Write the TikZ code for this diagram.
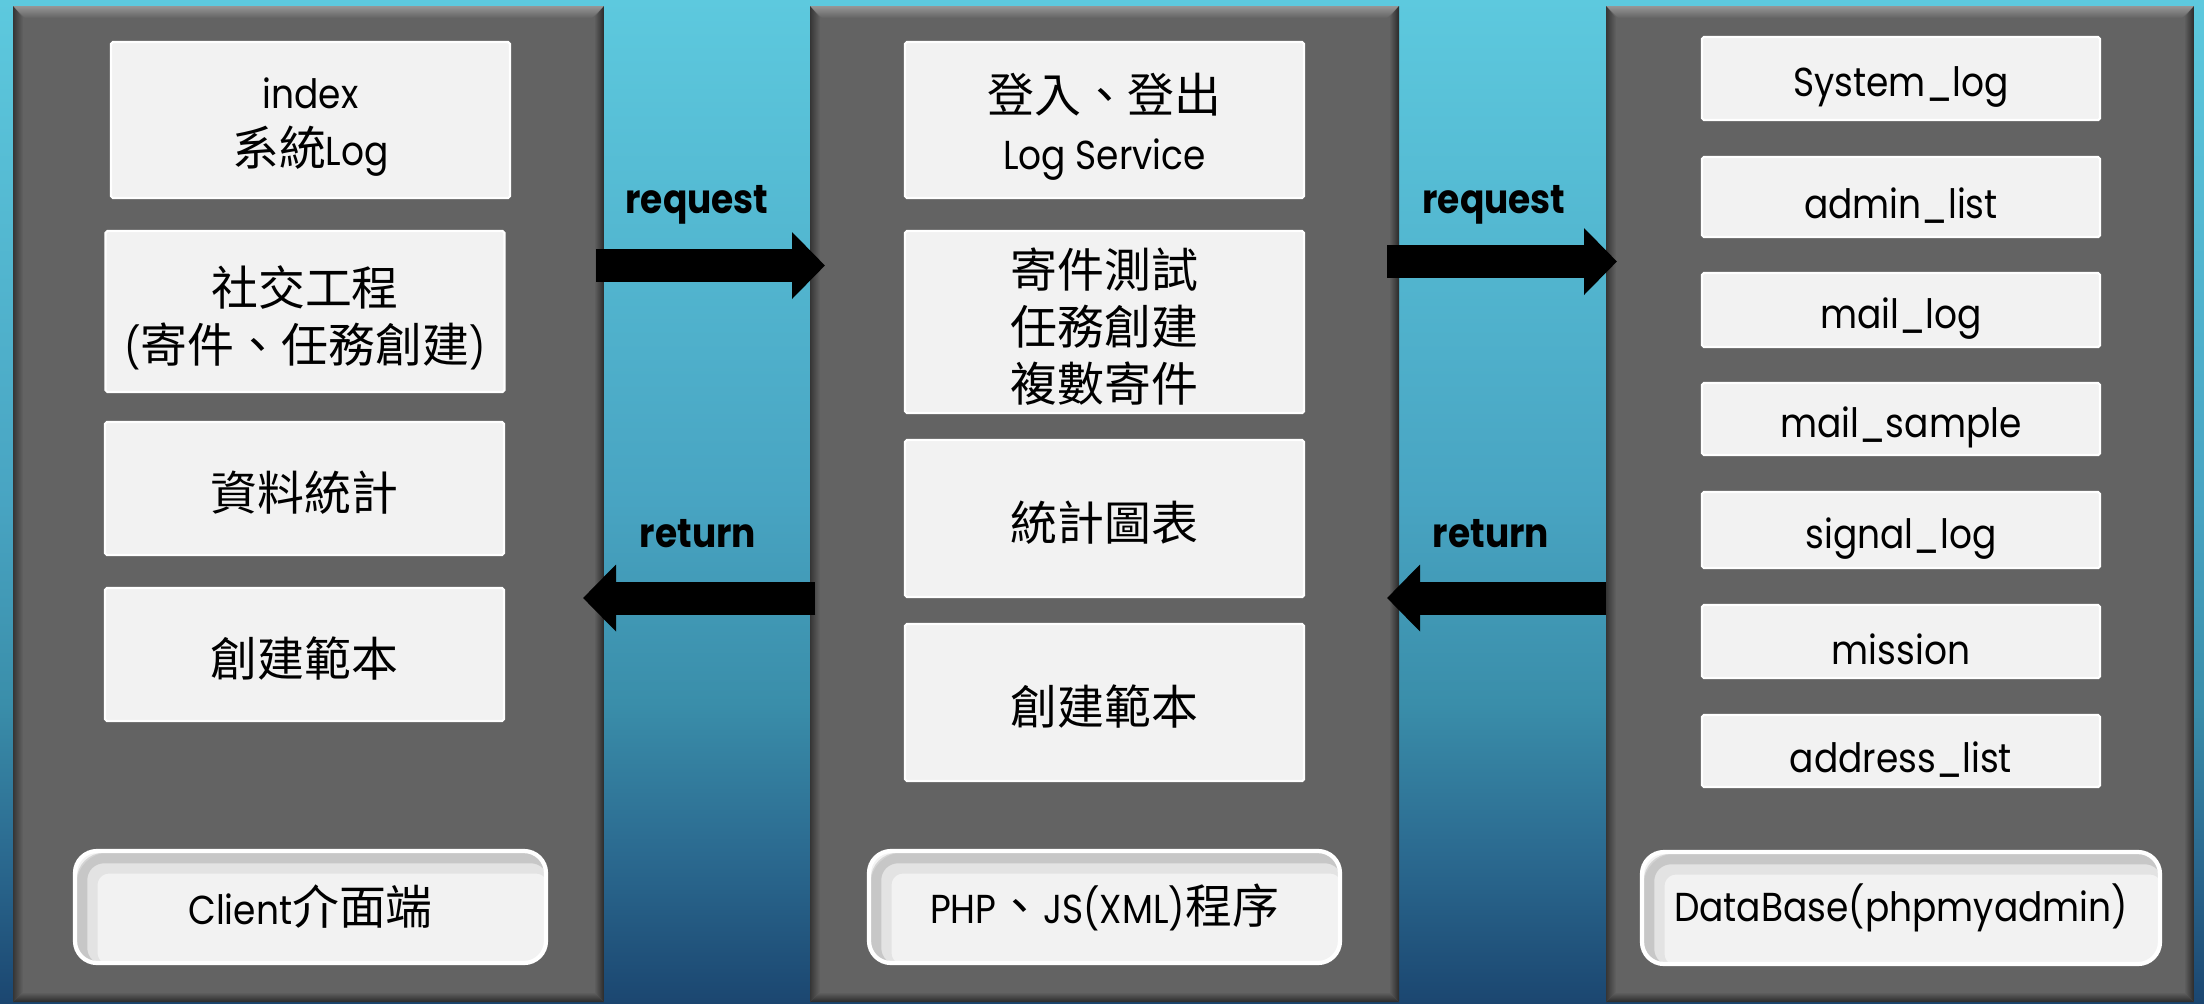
\documentclass[tikz,border=0pt]{standalone}
\usepackage{fontspec}
\setmainfont{Poppins}[FakeStretch=0.89]
\newfontfamily\cjk[Scale=1.16]{Noto Sans CJK TC}
\usetikzlibrary{positioning,arrows.meta,calc}
\definecolor{bgTop}{RGB}{93,201,222}
\definecolor{bgMid}{RGB}{72,164,194}
\definecolor{bgLow}{RGB}{58,142,170}
\definecolor{bgDeep}{RGB}{43,106,144}
\definecolor{bgBot}{RGB}{27,70,112}
\definecolor{panelGray}{RGB}{99,99,99}
\definecolor{panelLight}{RGB}{150,150,150}
\definecolor{panelDark}{RGB}{42,42,42}
\definecolor{boxFill}{RGB}{242,242,242}
\pgfdeclareverticalshading{bgshade}{100bp}{color(0bp)=(bgBot); color(25bp)=(bgBot);
  color(32.5bp)=(bgDeep); color(40bp)=(bgLow); color(50bp)=(bgMid);
  color(75bp)=(bgTop); color(100bp)=(bgTop)}
\newcommand\boxfont{\fontsize{11.5}{16.2}\selectfont}
\newcommand\liftline[1]{\rule{0pt}{#1}}
\tikzset{
    base/.style={align=center, text=black, inner sep=0pt},
    panel/.style={rectangle, fill=panelGray, inner sep=0pt, minimum height=9.96cm,
      path picture={
        \coordinate (bNW) at (path picture bounding box.north west);
        \coordinate (bNE) at (path picture bounding box.north east);
        \coordinate (bSW) at (path picture bounding box.south west);
        \coordinate (bSE) at (path picture bounding box.south east);
        \shade[top color=panelLight, bottom color=panelGray]
          (bNW) -- (bNE) -- ($(bNE)+(-0.12,-0.12)$) -- ($(bNW)+(0.12,-0.12)$) -- cycle;
        \shade[left color=panelGray, right color=panelDark]
          (bNE) -- (bSE) -- ($(bSE)+(-0.1,0.1)$) -- ($(bNE)+(-0.1,-0.12)$) -- cycle;
        \shade[left color=panelDark!80!panelGray, right color=panelGray]
          (bNW) -- ($(bNW)+(0.1,-0.12)$) -- ($(bSW)+(0.1,0.1)$) -- (bSW) -- cycle;
        \shade[top color=panelGray, bottom color=panelDark]
          (bSW) -- (bSE) -- ($(bSE)+(-0.1,0.1)$) -- ($(bSW)+(0.1,0.1)$) -- cycle;
      }},
    card/.style={base, rectangle, fill=boxFill, draw=white, font=\boxfont},
    item/.style={card, line width=0.6pt, rounded corners=0.5pt, minimum width=3.99cm,
                 execute at begin node={\liftline{0.47cm}}},
    dbitem/.style={item, minimum width=3.98cm},
    tier/.style={card, rounded corners=0.22cm, line width=1.2pt, minimum height=1.12cm,
      execute at begin node={\liftline{0.38cm}},
      path picture={
        \draw[black, opacity=0.06, line width=6pt, rounded corners=0.22cm]
          ([shift={(0.12,-0.12)}]path picture bounding box.north west) rectangle
          ([shift={(0.12,-0.12)}]path picture bounding box.south east);
        \draw[black, opacity=0.12, line width=3pt, rounded corners=0.22cm]
          ([shift={(0.07,-0.07)}]path picture bounding box.north west) rectangle
          ([shift={(0.07,-0.07)}]path picture bounding box.south east);
      }},
    bigarrow/.style={draw=black, line width=0.33cm, -{Triangle[width=0.65cm,length=0.33cm]}},
    flowtag/.style={font=\bfseries\fontsize{11.5}{13}\selectfont, anchor=base, inner sep=0pt}
}

\begin{document}
\begin{tikzpicture}
  % background
  \shade[shading=bgshade] (0,0) rectangle (22.04,-10.04);
  \useasboundingbox (0,0) rectangle (22.04,-10.04);

  % three tiers
  \node[panel, minimum width=5.91cm] (client) at (3.085,-5.04) {};
  \node[panel, minimum width=5.89cm] (php) at (11.045,-5.04) {};
  \node[panel, minimum width=5.88cm] (db) at (19.0,-5.04) {};

  % client side
  \node[item, minimum height=1.56cm] (index) at (3.105,-1.20) {\liftline{0.44cm}index\\{\cjk 系統}Log};
  \node[item, minimum height=1.61cm] (social) at (3.05,-3.115) {\liftline{0.52cm}{\cjk 社交工程}\\({\cjk 寄件、任務創建})};
  \node[item, minimum height=1.33cm] (stats) at (3.045,-4.885) {{\cjk 資料統計}};
  \node[item, minimum height=1.33cm] (tmplA) at (3.045,-6.545) {{\cjk 創建範本}};
  \node[tier, minimum width=4.71cm] (clientTag) at (3.105,-9.07) {Client{\cjk 介面端}};

  % php side
  \node[item, minimum height=1.56cm] (login) at (11.045,-1.20) {\liftline{0.53cm}{\cjk 登入、登出}\\Log Service};
  \node[item, minimum height=1.82cm] (mailer) at (11.045,-3.22) {\liftline{0.49cm}{\cjk 寄件測試}\\{\cjk 任務創建}\\{\cjk 複數寄件}};
  \node[item, minimum height=1.57cm] (chart) at (11.045,-5.185) {{\cjk 統計圖表}};
  \node[item, minimum height=1.57cm] (tmplB) at (11.045,-7.025) {{\cjk 創建範本}};
  \node[tier, minimum width=4.71cm] (phpTag) at (11.045,-9.07) {PHP{\cjk 、}JS(XML){\cjk 程序}};

  % database tables
  \node[dbitem, minimum height=0.83cm] (syslog) at (19.01,-0.785) {System\_log};
  \node[dbitem, minimum height=0.80cm] (admins) at (19.01,-1.97) {admin\_list};
  \node[dbitem, minimum height=0.74cm] (maillog) at (19.01,-3.10) {mail\_log};
  \node[dbitem, minimum height=0.72cm] (mailsample) at (19.01,-4.19) {mail\_sample};
  \node[dbitem, minimum height=0.76cm] (signallog) at (19.01,-5.30) {signal\_log};
  \node[dbitem, minimum height=0.73cm] (mission) at (19.01,-6.415) {mission};
  \node[dbitem, minimum height=0.72cm] (address) at (19.01,-7.51) {address\_list};
  \node[tier, minimum width=5.18cm] (dbTag) at (19.01,-9.08) {DataBase(phpmyadmin)};

  % request / return arrows
  \coordinate (req1s) at (5.96,-2.655);
  \coordinate (req1e) at (8.25,-2.655);
  \coordinate (ret1s) at (8.15,-5.98);
  \coordinate (ret1e) at (5.83,-5.98);
  \coordinate (req2s) at (13.87,-2.615);
  \coordinate (req2e) at (16.17,-2.615);
  \coordinate (ret2s) at (16.06,-5.98);
  \coordinate (ret2e) at (13.87,-5.98);

  \draw[bigarrow] (req1s) -- (req1e);
  \draw[bigarrow] (ret1s) -- (ret1e);
  \draw[bigarrow] (req2s) -- (req2e);
  \draw[bigarrow] (ret2s) -- (ret2e);

  \node[flowtag] (reqtxt1) at (6.97,-2.13) {request};
  \node[flowtag] (rettxt1) at (6.98,-5.47) {return};
  \node[flowtag] (reqtxt2) at (14.94,-2.13) {request};
  \node[flowtag] (rettxt2) at (14.91,-5.47) {return};
\end{tikzpicture}
\end{document}
